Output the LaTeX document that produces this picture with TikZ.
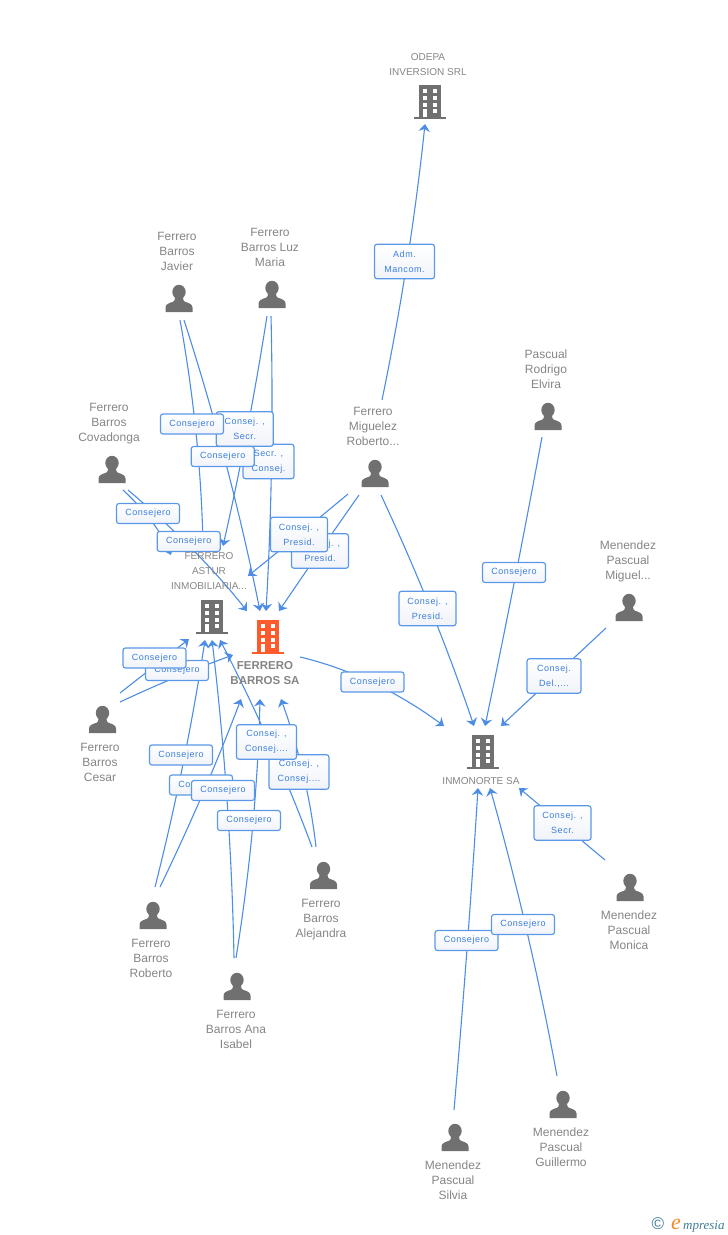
\documentclass[tikz,border=0pt]{standalone}
\usepackage{fontspec}
\setmainfont{Liberation Sans}
\newfontfamily\badgefont[LetterSpace=6]{Liberation Sans}
\newfontfamily\wmfont{Liberation Serif}
\usetikzlibrary{arrows.meta,calc}
\definecolor{linkblue}{HTML}{4D8DE6}
\definecolor{badgeline}{HTML}{5C98E8}
\definecolor{badgetext}{HTML}{3C7EDE}
\definecolor{badgelow}{HTML}{F0F3F9}
\definecolor{labelgray}{HTML}{858585}
\definecolor{icongray}{HTML}{707070}
\definecolor{iconred}{HTML}{FF5A2B}
\definecolor{wmteal}{HTML}{3F7C93}
\definecolor{wmorange}{HTML}{F08A24}
\tikzset{
  x=1pt,y=-1pt,
  link/.style={draw=linkblue,line width=1.1pt,-{Stealth[length=7.5pt,width=11.5pt,inset=2.5pt]}},
  badge/.style={draw=badgeline,line width=1.2pt,rounded corners=2.5pt,top color=white,bottom color=badgelow,
    inner sep=0pt,minimum height=20pt,align=center,text=badgetext,
    font=\badgefont\fontsize{9}{15}\selectfont},
  cons/.style={badge,minimum width=63pt},
  dbl/.style={badge,minimum height=34.5pt,minimum width=#1},
  dbl/.default=57pt,
  lbl/.style={align=center,inner sep=0pt,text=labelgray,font=\fontsize{12}{15}\selectfont},
  comp/.style={align=center,inner sep=0pt,text=labelgray,font=\fontsize{10}{15}\selectfont},
  person/.pic={
    \fill[icongray] (0,7) ellipse[x radius=6.7,y radius=7.2];
    \fill[icongray] (-13.5,27) -- (-13.5,22.5) .. controls (-13.5,19.5) and (-10,18) .. (-6,16.8) .. controls (-4.5,16.2) and (-4,15) .. (-4,11) -- (4,11) .. controls (4,15) and (4.5,16.2) .. (6,16.8) .. controls (10,18) and (13.5,19.5) .. (13.5,22.5) -- (13.5,27) -- cycle;
  },
  bldg/.pic={
    \fill[pic actions] (-11,0) rectangle (11,32);
    \fill[pic actions] (-16,31.7) rectangle (16,34);
    \foreach \yy in {4.3,11,17.5}{
      \fill[white] (-7,\yy) rectangle (-3,\yy+4);
      \fill[white] (2.8,\yy) rectangle (6.8,\yy+4);
    }
    \fill[white] (-7,24) rectangle (-3,32);
    \fill[white] (2.8,24) rectangle (6.8,28);
  },
}
% a curve from #1 to #3 whose middle is at #2
\newcommand{\conn}[3]{\draw[link] (#1) .. controls ($(#2)!-0.3333!(#3)$) and ($(#2)!-0.3333!(#1)$) .. (#3);}
\begin{document}
\begin{tikzpicture}
\useasboundingbox (0,0) rectangle (728,1235);
% ---- connector ends
\coordinate (jav1) at (180,320); \coordinate (jav2) at (184,320);
\coordinate (luz1) at (267,316); \coordinate (luz2) at (271,316);
\coordinate (cov1) at (123,490); \coordinate (cov2) at (128,490);
\coordinate (mig1) at (348,494); \coordinate (mig2) at (359,495);
\coordinate (mig3) at (382,400); \coordinate (mig4) at (381,495);
\coordinate (rod1) at (542,437); \coordinate (mgl1) at (606,628);
\coordinate (ces1) at (120,693); \coordinate (ces2) at (120,702);
\coordinate (rob1) at (155,887); \coordinate (rob2) at (160,887);
\coordinate (ana1) at (234,958); \coordinate (ana2) at (236,958);
\coordinate (ale1) at (312,847); \coordinate (ale2) at (316,847);
\coordinate (mon1) at (605,860); \coordinate (sil1) at (454,1110);
\coordinate (gui1) at (557,1076); \coordinate (fb1) at (300,657);
\coordinate (tOd) at (425,124);
\coordinate (tA1) at (203,546); \coordinate (tA2) at (223,546);
\coordinate (tA3) at (171,555); \coordinate (tA4) at (248,576);
\coordinate (tB1) at (247,611); \coordinate (tB2) at (260,611);
\coordinate (tB3) at (266,611); \coordinate (tB4) at (279,611);
\coordinate (tA5) at (189,639); \coordinate (tA6) at (205,640);
\coordinate (tA7) at (212,640); \coordinate (tA8) at (220,640);
\coordinate (tB5) at (233,655); \coordinate (tB6) at (241,699);
\coordinate (tB7) at (260,699); \coordinate (tB8) at (281,699);
\coordinate (tI1) at (444,726); \coordinate (tI2) at (474,726);
\coordinate (tI3) at (485,726); \coordinate (tI4) at (501,726);
\coordinate (tI5) at (519,788); \coordinate (tI6) at (478,788);
\coordinate (tI7) at (490,788);
% ---- mid points of the connectors, behind the badges
\coordinate (bOd) at (407,262);
\coordinate (bJ1) at (196,433); \coordinate (bL1) at (247,431);
\coordinate (bJ2) at (226,464); \coordinate (bL2) at (271.5,463);
\coordinate (bC1) at (152,522); \coordinate (bC2) at (193,550);
\coordinate (bM1) at (299,534.5); \coordinate (bM2) at (320,551);
\coordinate (bMI) at (431,610); \coordinate (bRo) at (514.5,581);
\coordinate (bMg) at (553.5,677); \coordinate (bFB) at (373,683);
\coordinate (bMo) at (562,824); \coordinate (bSi) at (467,949);
\coordinate (bGu) at (527,932);
\coordinate (bCe1) at (154.5,666); \coordinate (bCe2) at (176.5,677);
\coordinate (bR1) at (183,764); \coordinate (bR2) at (203,793);
\coordinate (bA1) at (227,800); \coordinate (bA2) at (252.5,828);
\coordinate (bAl1) at (270,744); \coordinate (bAl2) at (303,773);
% ---- connectors
\conn{mig3}{bOd}{tOd}
\conn{jav1}{bJ1}{tA1}
\conn{jav2}{bJ2}{tB2}
\conn{luz1}{bL1}{tA2}
\conn{luz2}{bL2}{tB3}
\conn{cov1}{bC1}{tA3}
\conn{cov2}{bC2}{tB1}
\conn{mig1}{bM1}{tA4}
\conn{mig2}{bM2}{tB4}
\conn{mig4}{bMI}{tI2}
\conn{rod1}{bRo}{tI3}
\conn{mgl1}{bMg}{tI4}
\conn{fb1}{bFB}{tI1}
\conn{mon1}{bMo}{tI5}
\conn{sil1}{bSi}{tI6}
\conn{gui1}{bGu}{tI7}
\conn{ces1}{bCe1}{tA5}
\conn{ces2}{bCe2}{tB5}
\conn{rob1}{bR1}{tA6}
\conn{rob2}{bR2}{tB6}
\conn{ana1}{bA1}{tA7}
\conn{ana2}{bA2}{tB7}
\conn{ale1}{bAl1}{tA8}
\conn{ale2}{bAl2}{tB8}
% ---- icons
\pic[fill=icongray] at (430,85) {bldg};
\pic[fill=icongray] at (212,600) {bldg};
\pic[fill=iconred] at (268,620) {bldg};
\pic[fill=icongray] at (483,735) {bldg};
\foreach \px/\py in {179/285,272/281,112/456,375/460,548/403,629/594,102.5/706,153/902,237/973,323.5/862,630/874,563/1091,455/1124}
  \pic at (\px,\py) {person};
% ---- badges
\node[dbl=60pt] (nOd) at (404.5,261.5) {Adm.\\Mancom.};
\node[dbl=51pt] (nL2) at (268.5,461.5) {Secr. ,\\Consej.};
\node[dbl] (nL1) at (244.7,429) {Consej. ,\\Secr.};
\node[cons] (nJ1) at (192,424) {Consejero};
\node[cons] (nJ2) at (222.7,456.5) {Consejero};
\node[cons] (nC1) at (148,513.5) {Consejero};
\node[cons] (nC2) at (188.7,541.5) {Consejero};
\node[dbl] (nM2) at (320,551) {Consej. ,\\Presid.};
\node[dbl] (nM1) at (299,534.5) {Consej. ,\\Presid.};
\node[dbl] (nMI) at (427.5,608.5) {Consej. ,\\Presid.};
\node[cons] (nRo) at (514,572.5) {Consejero};
\node[dbl=54pt] (nMg) at (554,676) {Consej.\\Del.,...};
\node[cons] (nFB) at (372.5,682) {Consejero};
\node[dbl] (nMo) at (562.5,823) {Consej. ,\\Secr.};
\node[cons] (nSi) at (466.5,940.5) {Consejero};
\node[cons] (nGu) at (523,924.5) {Consejero};
\node[cons] (nCe2) at (177,670.5) {Consejero};
\node[cons] (nCe1) at (154.5,658) {Consejero};
\node[cons] (nR1) at (181,755) {Consejero};
\node[cons] (nR2) at (201,785) {Consejero};
\node[cons] (nA1) at (223,790.5) {Consejero};
\node[cons] (nA2) at (249,820.5) {Consejero};
\node[dbl=60pt] (nAl2) at (299,772) {Consej. ,\\Consej....};
\node[dbl=60pt] (nAl1) at (266.5,742) {Consej. ,\\Consej....};
% ---- labels
\node[comp] (lOd) at (428,65) {ODEPA\\INVERSION SRL};
\node[lbl] (lJa) at (177,251) {Ferrero\\Barros\\Javier};
\node[lbl] (lLu) at (270,247) {Ferrero\\Barros Luz\\Maria};
\node[lbl] (lCo) at (109,424) {Ferrero\\Barros\\Covadonga};
\node[lbl] (lMi) at (373,426) {Ferrero\\Miguelez\\Roberto...};
\node[lbl] (lRo) at (546,369) {Pascual\\Rodrigo\\Elvira};
\node[lbl] (lMg) at (628,561.5) {Menendez\\Pascual\\Miguel...};
\node[comp] (lAs) at (209,571.5) {FERRERO\\ASTUR\\INMOBILIARIA...};
\node[align=center,inner sep=0pt,text=labelgray,font=\fontsize{11.5}{15}\selectfont\bfseries] (lFB) at (265,673.5) {FERRERO\\BARROS SA};
\node[lbl] (lCe) at (100,762) {Ferrero\\Barros\\Cesar};
\node[lbl] (lRb) at (151,958) {Ferrero\\Barros\\Roberto};
\node[lbl] (lAn) at (236,1029) {Ferrero\\Barros Ana\\Isabel};
\node[lbl] (lAl) at (321,920) {Ferrero\\Barros\\Alejandra};
\node[lbl] (lMo) at (629,930) {Menendez\\Pascual\\Monica};
\node[lbl] (lGu) at (561,1147) {Menendez\\Pascual\\Guillermo};
\node[lbl] (lSi) at (453,1180) {Menendez\\Pascual\\Silvia};
\node[comp] (lIn) at (481,781) {INMONORTE SA};
% ---- watermark
\node[inner sep=0pt,text=wmteal,font=\fontsize{17}{17}\selectfont] (wmc) at (658,1224) {©};
\node[inner sep=0pt,anchor=base west,text=wmorange,font=\wmfont\itshape\fontsize{22}{22}\selectfont] (wme) at (671,1229) {e};
\node[inner sep=0pt,anchor=base west,text=wmteal,font=\wmfont\itshape\fontsize{13}{13}\selectfont] (wmp) at (683,1229) {mpresia};
\end{tikzpicture}
\end{document}
